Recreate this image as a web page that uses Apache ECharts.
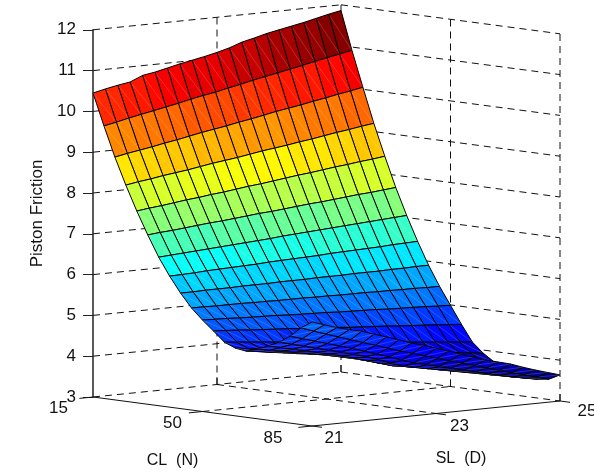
<!DOCTYPE html>
<html><head><meta charset="utf-8">
<style>html,body{margin:0;padding:0;background:#fff}#c{width:594px;height:472px}</style>
<script src="https://cdn.jsdelivr.net/npm/echarts@6/dist/echarts.min.js"></script>
</head><body><div id="c"></div>
<script>
// Data
const clValues = [15,18.5,22,25.5,29,32.5,36,39.5,43,46.5,50,53.5,57,60.5,64,67.5,71,74.5,78,81.5,85];
const slValues = [21,21.2,21.4,21.6,21.8,22,22.2,22.4,22.6,22.8,23,23.2,23.4,23.6,23.8,24,24.2,24.4,24.6,24.8,25];
const zRows = [
[10.45,10.52,10.58,10.63,10.76,10.81,10.88,10.95,11.01,11.07,11.14,11.22,11.33,11.40,11.48,11.54,11.60,11.66,11.73,11.80,11.86],
[9.68,9.74,9.81,9.87,9.93,9.99,10.05,10.12,10.18,10.23,10.30,10.36,10.43,10.49,10.55,10.61,10.67,10.74,10.80,10.86,10.92],
[8.95,9.01,9.06,9.11,9.17,9.22,9.28,9.34,9.39,9.44,9.50,9.55,9.61,9.67,9.72,9.77,9.83,9.88,9.94,9.99,10.05],
[8.30,8.35,8.39,8.44,8.48,8.52,8.57,8.62,8.66,8.70,8.75,8.80,8.84,8.88,8.93,8.97,9.02,9.07,9.11,9.16,9.20],
[7.70,7.74,7.77,7.81,7.85,7.88,7.92,7.95,7.99,8.03,8.06,8.10,8.14,8.18,8.21,8.25,8.29,8.32,8.36,8.39,8.43],
[7.15,7.18,7.20,7.23,7.26,7.29,7.31,7.34,7.37,7.40,7.42,7.45,7.48,7.51,7.53,7.56,7.59,7.62,7.64,7.67,7.70],
[6.64,6.66,6.68,6.70,6.72,6.74,6.76,6.78,6.80,6.82,6.85,6.87,6.89,6.91,6.93,6.95,6.97,6.99,7.01,7.03,7.05],
[6.21,6.22,6.23,6.25,6.26,6.27,6.28,6.29,6.31,6.32,6.33,6.34,6.35,6.37,6.38,6.39,6.40,6.41,6.43,6.44,6.45],
[5.83,5.83,5.84,5.84,5.84,5.85,5.85,5.85,5.86,5.86,5.86,5.87,5.87,5.87,5.88,5.88,5.88,5.89,5.89,5.90,5.90],
[5.50,5.50,5.49,5.49,5.49,5.48,5.48,5.47,5.47,5.47,5.46,5.46,5.45,5.45,5.45,5.44,5.44,5.43,5.43,5.42,5.42],
[5.24,5.23,5.22,5.20,5.19,5.18,5.17,5.15,5.14,5.13,5.12,5.10,5.09,5.08,5.07,5.05,5.04,5.03,5.02,5.00,4.99],
[5.01,4.99,4.97,4.94,4.92,4.90,4.88,4.85,4.83,4.81,4.79,4.76,4.74,4.72,4.70,4.67,4.65,4.63,4.61,4.58,4.56],
[4.77,4.74,4.71,4.68,4.65,4.62,4.59,4.56,4.53,4.50,4.47,4.43,4.40,4.37,4.34,4.31,4.28,4.25,4.22,4.19,4.16],
[4.66,4.62,4.59,4.55,4.51,4.48,4.44,4.40,4.37,4.33,4.29,4.25,4.22,4.18,4.14,4.11,4.07,4.03,4.00,3.96,3.92],
[4.62,4.58,4.53,4.49,4.44,4.40,4.36,4.31,4.27,4.22,4.18,4.14,4.09,4.05,4.00,3.96,3.92,3.87,3.83,3.78,3.74],
[4.71,4.65,4.60,4.54,4.48,4.42,4.36,4.29,4.22,4.14,4.05,4.01,3.97,3.93,3.88,3.84,3.80,3.75,3.71,3.66,3.62],
[4.82,4.75,4.68,4.61,4.54,4.47,4.39,4.31,4.21,4.12,4.03,3.98,3.93,3.88,3.83,3.78,3.73,3.68,3.62,3.57,3.52],
[4.95,4.87,4.79,4.71,4.63,4.55,4.47,4.38,4.28,4.16,4.05,3.99,3.93,3.87,3.81,3.75,3.69,3.63,3.57,3.51,3.46],
[5.13,5.04,4.95,4.86,4.77,4.68,4.58,4.48,4.38,4.27,4.17,4.10,4.02,3.95,3.87,3.80,3.72,3.65,3.58,3.52,3.46],
[5.37,5.26,5.16,5.06,4.96,4.86,4.76,4.66,4.56,4.47,4.38,4.29,4.20,4.11,4.02,3.93,3.84,3.75,3.67,3.58,3.50],
[5.55,5.45,5.35,5.27,5.20,5.10,5.00,4.90,4.79,4.70,4.60,4.50,4.40,4.29,4.19,4.11,4.03,3.92,3.82,3.73,3.64]
];
const clTicks = [15,50,85];
const slTicks = [21,23,25];
const zTicks = [3,4,5,6,7,8,9,10,11,12];
const clName = 'CL  (N)';
const slName = 'SL  (D)';
const zName = 'Piston Friction';

// View (orthographic, MATLAB-like)
const PX_PER_Z = 40.8;
function project(cl, sl, z){
  const u=(cl-15)/70, v=(sl-21)/4;
  return [219*u+248*v, z+(-29*u+25*v)/PX_PER_Z];
}
const zFlat=zRows.reduce((a,r)=>a.concat(r),[]);
const zMin=Math.min.apply(null,zFlat), zMax=Math.max.apply(null,zFlat);
function jet(z){
  let idx=Math.min(63,Math.floor((z-zMin)/(zMax-zMin)*64));
  const t=(idx+0.5)/64, c=x=>Math.round(255*Math.max(0,Math.min(1,x)));
  return 'rgb('+c(Math.min(4*t-1.5,-4*t+4.5))+','+c(Math.min(4*t-0.5,-4*t+3.5))+','+c(Math.min(4*t+0.5,-4*t+2.5))+')';
}

// Box lines
const dashed=[], solid=[];
const zLo=zTicks[0], zHi=zTicks[zTicks.length-1];
const clA=clTicks[0], clB=clTicks[2], slA=slTicks[0], slB=slTicks[2];
zTicks.forEach(z=>{ dashed.push([[clA,slA,z],[clA,slB,z]]); dashed.push([[clA,slB,z],[clB,slB,z]]); });
[[clA,slTicks[1]],[clA,slB],[clTicks[1],slB],[clB,slB]].forEach(p=>{
  dashed.push([[p[0],p[1],zLo],[p[0],p[1],zHi]]);
  solid.push([[p[0],p[1],zLo],[p[0],p[1],zLo+0.17]]);
});
dashed.push([[clA,slTicks[1],zLo],[clB,slTicks[1],zLo]]);
dashed.push([[clTicks[1],slA,zLo],[clTicks[1],slB,zLo]]);
solid.push([[clA,slA,zLo],[clB,slA,zLo]]);
solid.push([[clB,slA,zLo],[clB,slB,zLo]]);
clTicks.forEach(c=>solid.push([[c,slA-0.22,zLo],[c,slA,zLo]]));
slTicks.forEach(s=>solid.push([[clB,s,zLo],[clB+3.2,s,zLo]]));
const lineItems=dashed.map(d=>[0,0,d,1]).concat(solid.map(d=>[0,0,d,0]));

// Cells, far to near
const cells=[];
for(let i=0;i<clValues.length-1;i++) for(let j=slValues.length-2;j>=0;j--) cells.push([i,j]);

const labelItems=[
  {value:[0,0],p:[clTicks[0],slA,zLo],o:[-34.5,11.5],t:String(clTicks[0])},
  {value:[0,0],p:[clTicks[1],slA,zLo],o:[-30,11.5],t:String(clTicks[1])},
  {value:[0,0],p:[clTicks[2],slA,zLo],o:[-39,12.5],t:String(clTicks[2])},
  {value:[0,0],p:[clB,slTicks[0],zLo],o:[22,12],t:String(slTicks[0])},
  {value:[0,0],p:[clB,slTicks[1],zLo],o:[23.5,12.5],t:String(slTicks[1])},
  {value:[0,0],p:[clB,slTicks[2],zLo],o:[27,10],t:String(slTicks[2])},
  {value:[0,0],p:[clTicks[1],slA,zLo],o:[-30,49.5],t:clName,f:16},
  {value:[0,0],p:[clB,slTicks[1],zLo],o:[25,45.5],t:slName,f:16}
];
const FONT='"Liberation Sans", Arial, sans-serif';
const chart=echarts.init(document.getElementById('c'),null,{renderer:'canvas'});
function pt(api,p){ return api.coord(project(p[0],p[1],p[2])); }
chart.setOption({
  animation:false,
  backgroundColor:'#fff',
  grid:{left:93,top:29.8,width:467,height:367.2,containLabel:false},
  xAxis:{type:'value',min:0,max:467,show:false},
  yAxis:{type:'value',min:zLo,max:zHi,interval:1,
    name:zName,nameLocation:'middle',nameGap:41,nameRotate:90,
    nameTextStyle:{color:'#111',fontFamily:FONT,fontSize:17},
    axisLine:{show:true,lineStyle:{color:'#222',width:1.5}},
    axisTick:{show:true,length:10,lineStyle:{color:'#222',width:1}},
    axisLabel:{color:'#111',fontFamily:FONT,fontSize:17,margin:17,padding:[0,0,4,0],formatter:v=>String(v)},
    splitLine:{show:false}},
  series:[
    {type:'custom',coordinateSystem:'cartesian2d',z:1,silent:true,data:lineItems,
     renderItem:(params,api)=>{
       const it=lineItems[params.dataIndex], a=pt(api,it[2][0]), b=pt(api,it[2][1]);
       return {type:'line',shape:{x1:a[0],y1:a[1],x2:b[0],y2:b[1]},
         style:{stroke:'#111',lineWidth:1,lineDash:it[3]?[7,5]:null,fill:null}};
     }},
    {type:'custom',coordinateSystem:'cartesian2d',z:2,silent:true,data:cells,
     renderItem:(params,api)=>{
       const i=cells[params.dataIndex][0], j=cells[params.dataIndex][1];
       const P=(a,b)=>pt(api,[clValues[a],slValues[b],zRows[a][b]]);
       const p1=P(i,j),p2=P(i+1,j),p3=P(i+1,j+1),p4=P(i,j+1);
       return {type:'group',children:[
         {type:'polygon',shape:{points:[p1,p2,p3,p4]},style:{fill:jet(zRows[i][j]),stroke:'#000',lineWidth:1,lineJoin:'round'}},
         {type:'line',shape:{x1:p1[0],y1:p1[1],x2:p3[0],y2:p3[1]},style:{stroke:'rgba(255,255,255,0.28)',lineWidth:0.6,fill:null}}
       ]};
     }},
    {type:'custom',coordinateSystem:'cartesian2d',z:3,silent:true,data:labelItems,
     renderItem:(params,api)=>{
       const it=labelItems[params.dataIndex], a=pt(api,it.p);
       return {type:'text',style:{x:a[0]+it.o[0],y:a[1]+it.o[1],text:it.t,fill:'#111',
         font:(it.f||17)+'px '+FONT,align:'center',verticalAlign:'middle'}};
     }}
  ]
});
</script></body></html>
